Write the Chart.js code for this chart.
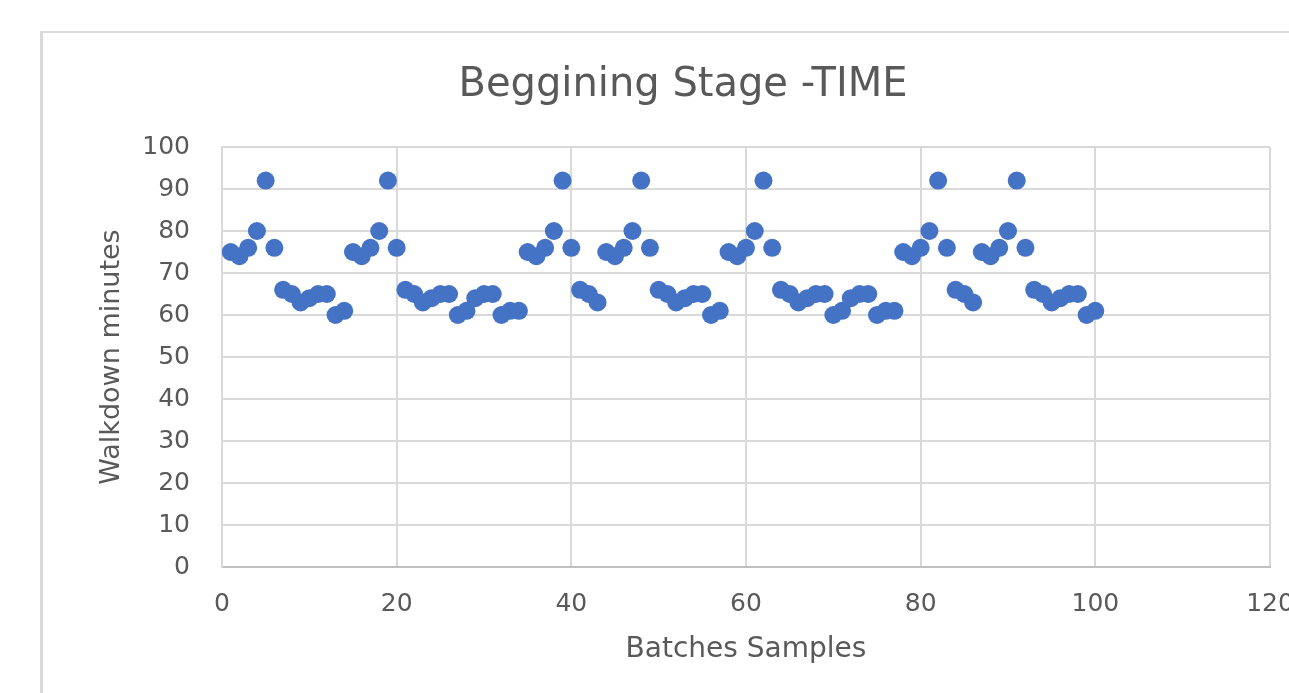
<!DOCTYPE html>
<html>
<head>
<meta charset="utf-8">
<script src="https://cdn.jsdelivr.net/npm/chart.js@4/dist/chart.umd.min.js"></script>
<style>
  html, body { margin: 0; padding: 0; background: #ffffff; overflow: hidden; }
  canvas { display: block; }
</style>
</head>
<body>
<canvas id="c" width="1289" height="693"></canvas>
<script>
const chartTitle = "Beggining Stage -TIME";
const xAxisTitle = "Batches Samples";
const yAxisTitle = "Walkdown minutes";

const batches = [
  1, 2, 3, 4, 5, 6, 7, 8, 9, 10,
  11, 12, 13, 14, 15, 16, 17, 18, 19, 20,
  21, 22, 23, 24, 25, 26, 27, 28, 29, 30,
  31, 32, 33, 34, 35, 36, 37, 38, 39, 40,
  41, 42, 43, 44, 45, 46, 47, 48, 49, 50,
  51, 52, 53, 54, 55, 56, 57, 58, 59, 60,
  61, 62, 63, 64, 65, 66, 67, 68, 69, 70,
  71, 72, 73, 74, 75, 76, 77, 78, 79, 80,
  81, 82, 83, 84, 85, 86, 87, 88, 89, 90,
  91, 92, 93, 94, 95, 96, 97, 98, 99, 100
];

const walkdownMinutes = [
  75, 74, 76, 80, 92, 76, 66, 65, 63, 64,
  65, 65, 60, 61, 75, 74, 76, 80, 92, 76,
  66, 65, 63, 64, 65, 65, 60, 61, 64, 65,
  65, 60, 61, 61, 75, 74, 76, 80, 92, 76,
  66, 65, 63, 75, 74, 76, 80, 92, 76, 66,
  65, 63, 64, 65, 65, 60, 61, 75, 74, 76,
  80, 92, 76, 66, 65, 63, 64, 65, 65, 60,
  61, 64, 65, 65, 60, 61, 61, 75, 74, 76,
  80, 92, 76, 66, 65, 63, 75, 74, 76, 80,
  92, 76, 66, 65, 63, 64, 65, 65, 60, 61
];

const xTickRange = { min: 0, max: 120, step: 20 };
const yTickRange = { min: 0, max: 100, step: 10 };

const points = batches.map((b, i) => ({ x: b, y: walkdownMinutes[i] }));

const textColor = '#595959';
const gridColor = '#d9d9d9';
const fontFamily = '"DejaVu Sans", "Noto Sans", sans-serif';

const framePlugin = {
  id: 'outerFrame',
  beforeDraw(chart) {
    const ctx = chart.ctx;
    ctx.save();
    ctx.fillStyle = '#ffffff';
    ctx.fillRect(0, 0, chart.width, chart.height);
    ctx.fillStyle = '#d9d9d9';
    ctx.fillRect(40, 31, chart.width - 40, 2);
    ctx.fillRect(40, 31, 3, chart.height - 31);
    ctx.restore();
  }
};

new Chart(document.getElementById('c'), {
  type: 'scatter',
  data: {
    datasets: [{
      label: yAxisTitle,
      data: points,
      backgroundColor: '#4472C4',
      borderColor: '#4472C4',
      borderWidth: 0,
      pointRadius: 9,
      pointHoverRadius: 9
    }]
  },
  options: {
    responsive: false,
    devicePixelRatio: 1,
    animation: false,
    layout: { padding: { left: 96, right: 19, top: 0, bottom: 0 } },
    plugins: {
      legend: { display: false },
      tooltip: { enabled: false },
      title: {
        display: true,
        text: chartTitle,
        color: textColor,
        font: { family: fontFamily, size: 40, weight: 'normal' },
        padding: { top: 62, bottom: 37 }
      }
    },
    scales: {
      x: {
        type: 'linear',
        min: xTickRange.min,
        max: xTickRange.max,
        ticks: {
          stepSize: xTickRange.step,
          color: textColor,
          font: { family: fontFamily, size: 25 },
          padding: 22,
          maxRotation: 0
        },
        grid: { color: gridColor, lineWidth: 2, drawTicks: false },
        border: { color: '#bfbfbf', width: 2 },
        title: {
          display: true,
          text: xAxisTitle,
          color: textColor,
          font: { family: fontFamily, size: 28 },
          padding: { top: 0, bottom: 26 }
        },
        afterFit(scale) {
          scale.height = 126;
          scale.paddingLeft = 0;
          scale.paddingRight = 0;
        }
      },
      y: {
        type: 'linear',
        min: yTickRange.min,
        max: yTickRange.max,
        ticks: {
          stepSize: yTickRange.step,
          color: textColor,
          font: { family: fontFamily, size: 25 },
          padding: 32
        },
        grid: { color: gridColor, lineWidth: 2, drawTicks: false },
        border: { color: gridColor, width: 2 },
        title: {
          display: true,
          text: yAxisTitle,
          color: textColor,
          font: { family: fontFamily, size: 27 },
          padding: { top: 0, bottom: 0 }
        },
        afterFit(scale) {
          scale.width = 126;
          scale.paddingTop = 0;
          scale.paddingBottom = 0;
        }
      }
    }
  },
  plugins: [framePlugin]
});
</script>
</body>
</html>
